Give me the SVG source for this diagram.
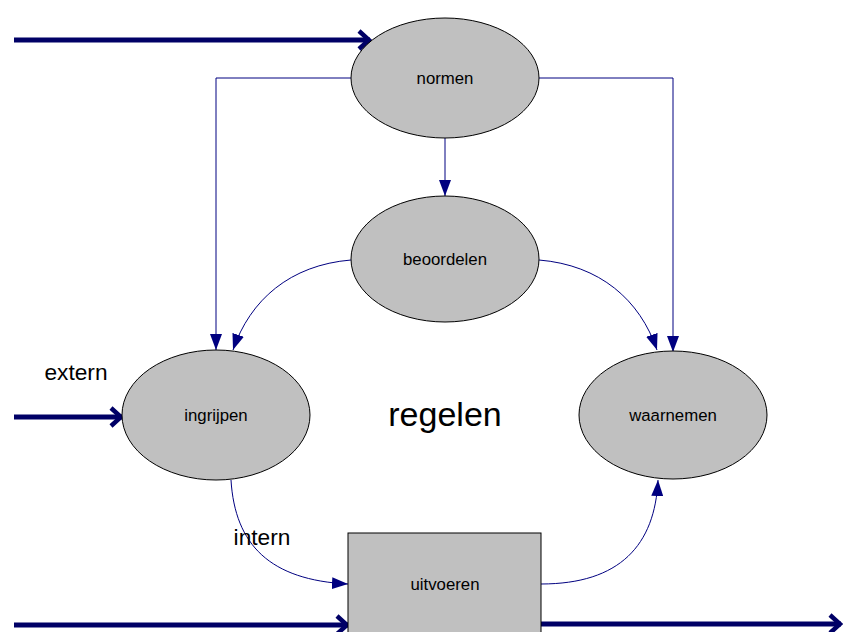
<svg xmlns="http://www.w3.org/2000/svg" width="843" height="632" viewBox="0 0 843 632">
  <style>
    .node { fill: #c0c0c0; stroke: #000000; stroke-width: 1; }
    .label { font-family: "Liberation Sans", Arial, sans-serif; font-size: 16.8px; fill: #000000; text-anchor: middle; }
    .big { font-family: "Liberation Sans", Arial, sans-serif; fill: #000000; text-anchor: middle; }
    .thin { fill: none; stroke: #000080; stroke-width: 1; marker-end: url(#tri); }
    .thick { fill: none; stroke: #000066; stroke-width: 5; marker-end: url(#chev); }
  </style>
  <defs>
    <marker id="tri" viewBox="0 0 16 12" refX="16" refY="6" markerWidth="16" markerHeight="12" markerUnits="userSpaceOnUse" orient="auto">
      <path d="M0,0 L16,6 L0,12 Z" fill="#000080"/>
    </marker>
    <marker id="chev" viewBox="0 0 16 24" refX="14" refY="12" markerWidth="16" markerHeight="24" markerUnits="userSpaceOnUse" orient="auto">
      <path d="M3,3 L13,12 L3,21" fill="none" stroke="#000066" stroke-width="4.5"/>
    </marker>
  </defs>

  <rect width="843" height="632" fill="#ffffff"/>

  <!-- connectors -->
  <g id="connectors">
    <path class="thin" d="M351,78 H216 V350"/>
    <path class="thin" d="M539,78 H673 V352"/>
    <path class="thin" d="M445,138 V196"/>
    <path class="thin" d="M351,260 C290,265 250,300 233,350"/>
    <path class="thin" d="M539,260 C600,265 640,300 657,350"/>
    <path class="thin" d="M231,480 C235,545 270,580 348,584"/>
    <path class="thin" d="M541,584 C620,584 655,545 658,480"/>
    <path class="thick" d="M14,40 H370"/>
    <path class="thick" d="M14,417 H122"/>
    <path class="thick" d="M14,625 H348"/>
    <path class="thick" d="M541,624 H841"/>
  </g>

  <g id="normen">
    <ellipse class="node" cx="445" cy="78" rx="94" ry="60"/>
    <text class="label" x="445" y="84">normen</text>
  </g>
  <g id="beoordelen">
    <ellipse class="node" cx="445" cy="259" rx="94" ry="63"/>
    <text class="label" x="445" y="265">beoordelen</text>
  </g>
  <g id="ingrijpen">
    <ellipse class="node" cx="216" cy="415" rx="94" ry="65"/>
    <text class="label" x="216" y="421">ingrijpen</text>
  </g>
  <g id="waarnemen">
    <ellipse class="node" cx="673" cy="415" rx="94" ry="64"/>
    <text class="label" x="673" y="421">waarnemen</text>
  </g>
  <g id="uitvoeren">
    <rect class="node" x="348" y="533" width="193" height="110"/>
    <text class="label" x="445" y="590">uitvoeren</text>
  </g>

  <text class="big" x="445" y="426" font-size="34">regelen</text>
  <text class="big" x="76" y="380" font-size="22.7">extern</text>
  <text class="big" x="262" y="545" font-size="22.7">intern</text>
</svg>
